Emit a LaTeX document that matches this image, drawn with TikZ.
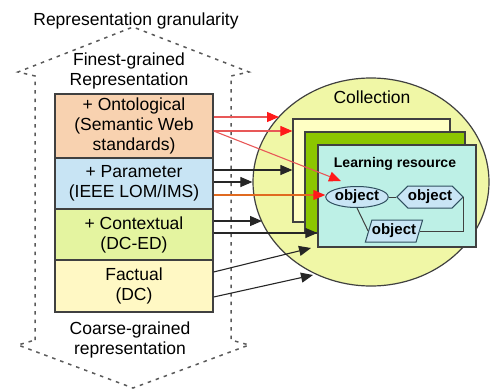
\documentclass[tikz,border=0pt]{standalone}
\usepackage{fontspec}
\setmainfont{Liberation Sans}
\usetikzlibrary{shapes.geometric,shapes.symbols,arrows.meta,calc}
\definecolor{ontofill}{HTML}{F8D2B0}
\definecolor{paramfill}{HTML}{C8E4F4}
\definecolor{contfill}{HTML}{E4F4A0}
\definecolor{factfill}{HTML}{FFF8C4}
\definecolor{collfill}{HTML}{F0F7A6}
\definecolor{backfill}{HTML}{FFFFC4}
\definecolor{midfill}{HTML}{8CC600}
\definecolor{frontfill}{HTML}{BDF0E6}
\definecolor{objfill}{HTML}{C9E5F5}
\definecolor{objline}{HTML}{2F4F5F}
\definecolor{edge}{HTML}{404040}
\definecolor{redline}{HTML}{E85858}
\definecolor{redtip}{HTML}{FF1A1A}
\definecolor{orangeline}{HTML}{E06A20}
\begin{document}
\begin{tikzpicture}[x=1pt,y=-1pt,
  font=\fontsize{17.5}{20}\selectfont,
  layer/.style={draw=edge, line width=1.3pt, minimum width=158pt, minimum height=#1, inner sep=0pt, align=center},
  rbox/.style={draw=edge, line width=1.2pt, inner sep=0pt},
  obj/.style={draw=objline, fill=objfill, line width=1pt, inner sep=0pt, font=\bfseries\fontsize{15}{17}\selectfont},
  link/.style={draw=edge, line width=1pt},
  blk/.style={draw=black!85, line width=1.1pt, -{Triangle[length=12pt,width=10pt]}},
  redarr/.style={draw=redline, line width=1.1pt, -{Triangle[length=12pt,width=10pt,color=redtip]}},
  orarr/.style={draw=orangeline, line width=1.1pt, -{Triangle[length=12pt,width=10pt,color=redtip]}},
  gran/.style={draw=black!65, line width=1.5pt, dash pattern=on 3.5pt off 5pt}
]
\useasboundingbox (0,0) rectangle (495,388);

% granularity double arrow outline
\draw[gran] (35,340) -- (35,76) -- (18,72) -- (133,27) -- (249,72) -- (231,76) -- (231,340)
  -- (249,345) -- (133,388) -- (18,345) -- cycle;

\node[anchor=base] (title) at (136,25.5) {Representation granularity};
\node[align=center] (finest) at (129,71) {Finest-grained\\Representation};
\node[align=center] (coarse) at (130,340) {Coarse-grained\\representation};

% layers
\node[layer=64pt, fill=ontofill] (onto) at (134,126) {+ Ontological\\(Semantic Web\\standards)};
\node[layer=51pt, fill=paramfill] (param) at (134,183.5) {+ Parameter\\(IEEE LOM/IMS)};
\node[layer=51pt, fill=contfill] (cont) at (134,234.5) {+ Contextual\\(DC-ED)};
\node[layer=52pt, fill=factfill] (fact) at (134,286) {Factual\\(DC)};

% collection
\node[ellipse, draw=edge, line width=1.2pt, fill=collfill, minimum width=236pt, minimum height=208pt, inner sep=0pt] (coll) at (371,182) {};
\node (colllabel) at (372,97) {Collection};

\node[rbox, fill=backfill, minimum width=157pt, minimum height=103pt] (back) at (371.5,170.5) {};
\node[rbox, fill=midfill, minimum width=160pt, minimum height=101pt] (mid) at (385,182.5) {};
\node[rbox, fill=frontfill, minimum width=158pt, minimum height=102pt] (front) at (397,196) {};
\node[font=\bfseries\fontsize{14}{16}\selectfont] (lrlabel) at (395,164) {Learning resource};

% objects
\node[obj, ellipse, minimum width=50pt, minimum height=21pt] (ell) at (357,197) {object};
\node[obj, signal, signal to=east and west, signal pointer angle=90, minimum width=62pt, minimum height=22pt] (hex) at (430,197) {object};
\node[obj, trapezium, trapezium left angle=65, trapezium right angle=115, trapezium stretches=true, minimum width=56pt, minimum height=22pt] (para) at (394,231) {object};

\draw[link] (ell.east) -- (hex.west);
\draw[link] (ell.south) -- (para.left side);
\draw[link] (hex.east) |- (para.east);

% start points
\coordinate (s1) at ($(onto.east)+(0,-9)$);
\coordinate (s2) at ($(onto.east)+(0,5)$);
\coordinate (p1) at ($(param.east)+(0,-13.5)$);
\coordinate (p2) at ($(param.east)+(0,-1.5)$);
\coordinate (p3) at ($(param.east)+(0,11.5)$);
\coordinate (c1) at ($(cont.east)+(0,-13.5)$);
\coordinate (c2) at ($(cont.east)+(0,-1.5)$);
\coordinate (f1) at ($(fact.east)+(0,-14)$);
\coordinate (f2) at ($(fact.east)+(0,11)$);
% free ends
\coordinate (e1) at (279,117);
\coordinate (e3) at (341,181);
\coordinate (e6) at (262,221);
\coordinate (e8) at (311,248);
\coordinate (e9) at (313,275);

% arrows
\draw[redarr] (s1) -- (e1);
\draw[redarr] (s2) -- (s2 -| back.west);
\draw[redarr] (s2) -- (e3);
\draw[orarr] (p3) -- (p3 -| ell.west);
\draw[blk] (p1) -- (p1 -| back.west);
\draw[blk] (p2) -- (p2 -| coll.west);
\draw[blk] (c1) -- (e6);
\draw[blk] (c2) -- (c2 -| front.west);
\draw[blk] (f1) -- (e8);
\draw[blk] (f2) -- (e9);
\end{tikzpicture}
\end{document}
